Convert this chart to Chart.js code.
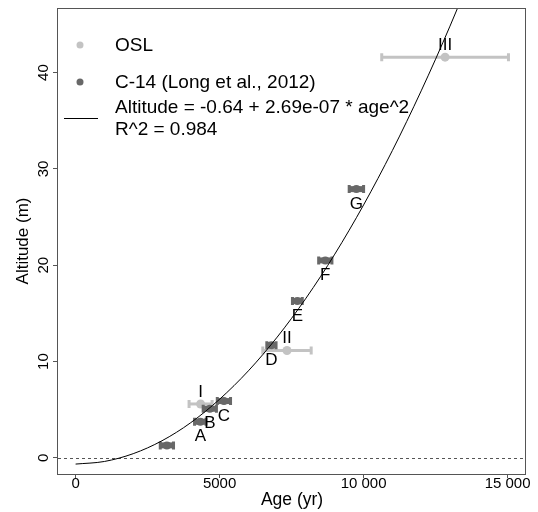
<!DOCTYPE html>
<html>
<head>
<meta charset="utf-8">
<script src="https://cdn.jsdelivr.net/npm/chart.js@4.4.0/dist/chart.umd.min.js"></script>
<style>
  body { margin: 0; background: #fff; }
  #wrap { width: 538px; height: 512px; }
</style>
</head>
<body>
<div id="wrap"><canvas id="grafico"></canvas></div>
<script>
// ---- DATA ----
// OSL
const oslAge = [4340, 7340, 12830];
const oslAlt = [5.6, 11.15, 41.6];
const oslErr = [400, 840, 2200];
const oslLabels = ["I", "II", "III"];

// C-14 (Long et al., 2012)
const c14Age = [3170, 4330, 4660, 5150, 6800, 7700, 8670, 9750];
const c14Alt = [1.3, 3.75, 5.1, 5.9, 11.7, 16.3, 20.5, 27.9];
const c14Err = [230, 200, 230, 230, 160, 170, 230, 250];
const c14Labels = ["", "A", "B", "C", "D", "E", "F", "G"];

// fitted curve
const fitAge = [0, 1000, 2000, 3000, 4000, 5000, 6000, 7000, 8000, 9000, 10000, 11000, 12000, 13000, 14000];
const fitAlt = [-0.64, -0.37, 0.44, 1.78, 3.66, 6.09, 9.04, 12.54, 16.58, 21.15, 26.26, 31.91, 38.1, 44.82, 52.08];

const xTicks = [0, 5000, 10000, 15000];
const xTickLabels = ["0", "5000", "10 000", "15 000"];
const yTicks = [0, 10, 20, 30, 40];
const yTickLabels = ["0", "10", "20", "30", "40"];

const FONT = "'Liberation Sans', Arial, sans-serif";
const OSL_COLOR = "#c3c3c3";
const C14_COLOR = "#686868";
const AXIS_COLOR = "#555555";

const pts = (xs, ys) => xs.map((x, i) => ({ x: x, y: ys[i] }));

// error bars, drawn just before each dataset's points
const errorBars = {
  id: "errorBars",
  beforeDatasetDraw(chart, args) {
    const ds = chart.data.datasets[args.index];
    if (!ds.errX) return;
    const { ctx, scales: { x, y } } = chart;
    ctx.save();
    ctx.strokeStyle = ds.backgroundColor;
    ds.data.forEach((p, i) => {
      const x0 = x.getPixelForValue(p.x - ds.errX[i]);
      const x1 = x.getPixelForValue(p.x + ds.errX[i]);
      const py = y.getPixelForValue(p.y);
      ctx.lineWidth = ds.barWidth;
      ctx.beginPath();
      ctx.moveTo(x0, py); ctx.lineTo(x1, py);
      ctx.stroke();
      ctx.lineWidth = 3;
      ctx.beginPath();
      ctx.moveTo(x0, py - 4); ctx.lineTo(x0, py + 4);
      ctx.moveTo(x1, py - 4); ctx.lineTo(x1, py + 4);
      ctx.stroke();
    });
    ctx.restore();
  }
};

// box, zero line, y tick labels, point labels and legend
const extras = {
  id: "extras",
  beforeDatasetsDraw(chart) {
    const { ctx, chartArea: a, scales: { y } } = chart;
    const y0 = Math.round(y.getPixelForValue(0)) + 0.5;
    ctx.save();
    ctx.strokeStyle = AXIS_COLOR;
    ctx.lineWidth = 1;
    ctx.setLineDash([3, 3]);
    ctx.beginPath();
    ctx.moveTo(a.left, y0); ctx.lineTo(a.right, y0);
    ctx.stroke();
    ctx.restore();
  },
  afterDraw(chart) {
    const { ctx, chartArea: a, scales: { x, y } } = chart;
    ctx.save();
    ctx.strokeStyle = AXIS_COLOR;
    ctx.lineWidth = 1;
    ctx.strokeRect(a.left - 0.5, a.top + 0.5, a.right - a.left, a.bottom - a.top);

    // y tick labels, rotated like in R
    ctx.fillStyle = "#000";
    ctx.font = "15px " + FONT;
    ctx.textAlign = "center";
    ctx.textBaseline = "middle";
    yTicks.forEach((v, i) => {
      ctx.save();
      ctx.translate(44, y.getPixelForValue(v));
      ctx.rotate(-Math.PI / 2);
      ctx.fillText(yTickLabels[i], 0, 0);
      ctx.restore();
    });

    // point labels
    ctx.font = "17px " + FONT;
    c14Labels.forEach((t, i) => {
      if (!t) return;
      ctx.fillText(t, x.getPixelForValue(c14Age[i]), y.getPixelForValue(c14Alt[i]) + 15);
    });
    oslLabels.forEach((t, i) => {
      ctx.fillText(t, x.getPixelForValue(oslAge[i]), y.getPixelForValue(oslAlt[i]) - 12);
    });

    // legend
    ctx.textAlign = "left";
    ctx.font = "19px " + FONT;
    ctx.fillStyle = OSL_COLOR;
    ctx.beginPath(); ctx.arc(80, 45, 3.5, 0, 2 * Math.PI); ctx.fill();
    ctx.fillStyle = C14_COLOR;
    ctx.beginPath(); ctx.arc(80, 82, 3.5, 0, 2 * Math.PI); ctx.fill();
    ctx.strokeStyle = "#000";
    ctx.beginPath(); ctx.moveTo(64, 118.5); ctx.lineTo(98, 118.5); ctx.stroke();
    ctx.fillStyle = "#000";
    ctx.fillText("OSL", 115, 46);
    ctx.fillText("C-14 (Long et al., 2012)", 115, 83);
    ctx.fillText("Altitude = -0.64 + 2.69e-07 * age^2", 115, 108);
    ctx.fillText("R^2 = 0.984", 115, 130);
    ctx.restore();
  }
};

const ctx = document.getElementById("grafico").getContext("2d");

const chart = new Chart(ctx, {
  type: "scatter",
  data: {
    datasets: [
      {
        type: "line",
        label: "fit",
        data: pts(fitAge, fitAlt),
        borderColor: "#000",
        borderWidth: 1,
        pointRadius: 0,
        fill: false,
        cubicInterpolationMode: "monotone"
      },
      {
        label: "C-14 (Long et al., 2012)",
        data: pts(c14Age, c14Alt),
        errX: c14Err,
        barWidth: 6,
        backgroundColor: C14_COLOR,
        borderWidth: 0,
        pointRadius: 4
      },
      {
        label: "OSL",
        data: pts(oslAge, oslAlt),
        errX: oslErr,
        barWidth: 3,
        backgroundColor: OSL_COLOR,
        borderWidth: 0,
        pointRadius: 4.5
      }
    ]
  },
  options: {
    responsive: true,
    maintainAspectRatio: false,
    animation: false,
    layout: { padding: { top: 8, right: 12, left: 0, bottom: 0 } },
    plugins: { legend: { display: false }, tooltip: { enabled: false } },
    scales: {
      x: {
        type: "linear",
        min: -611,
        max: 15639,
        afterBuildTicks: (s) => { s.ticks = xTicks.map((v) => ({ value: v })); },
        afterFit: (s) => { s.height = 38; },
        ticks: {
          callback: (v) => xTickLabels[xTicks.indexOf(v)],
          font: { family: FONT, size: 15 },
          color: "#000",
          maxRotation: 0,
          autoSkip: false,
          padding: -3
        },
        grid: { drawOnChartArea: false, drawTicks: true, tickLength: 4, color: AXIS_COLOR },
        border: { display: false },
        title: {
          display: true,
          text: "Age (yr)",
          font: { family: FONT, size: 17.5 },
          color: "#000",
          padding: { top: 0, bottom: 1 }
        }
      },
      y: {
        type: "linear",
        min: -1.67,
        max: 46.7,
        afterBuildTicks: (s) => { s.ticks = yTicks.map((v) => ({ value: v })); },
        afterFit: (s) => { s.width = 58; },
        ticks: { display: false },
        grid: { drawOnChartArea: false, drawTicks: true, tickLength: 5, color: AXIS_COLOR },
        border: { display: false },
        title: {
          display: true,
          text: "Altitude (m)",
          font: { family: FONT, size: 17 },
          color: "#000",
          padding: { top: 13, bottom: 0 }
        }
      }
    }
  },
  plugins: [errorBars, extras]
});
</script>
</body>
</html>
